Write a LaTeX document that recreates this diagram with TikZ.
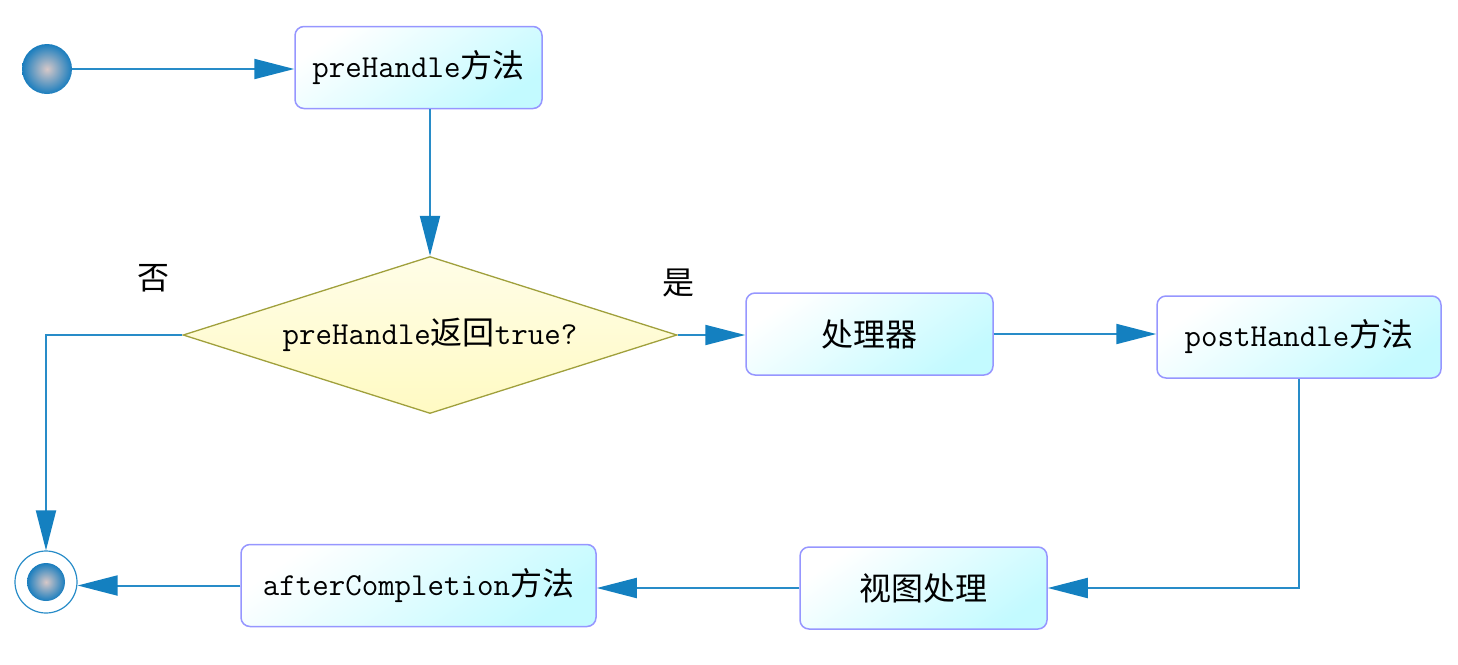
\documentclass[tikz,border=0pt]{standalone}
\usepackage{fontspec}
\newfontfamily\cjk[Scale=1.0]{Noto Sans CJK SC}
\usetikzlibrary{shapes.geometric,arrows.meta}
\definecolor{linec}{RGB}{40,140,200}
\definecolor{tipc}{RGB}{20,128,192}
\definecolor{boxb}{RGB}{150,150,255}
\definecolor{boxc}{RGB}{195,250,255}
\definecolor{diab}{RGB}{160,160,60}
\definecolor{diay}{RGB}{255,250,195}
\definecolor{ballc}{RGB}{25,125,190}
\definecolor{ballm}{RGB}{215,200,200}
\tikzset{
  x=1pt, y=-1pt,
  every node/.style={font=\fontsize{32}{36}\selectfont\ttfamily},
  stepbox/.style={draw=boxb, line width=1.5pt, rounded corners=9pt,
    top color=white, bottom color=boxc, shading angle=35,
    minimum width=247pt, minimum height=82pt, inner sep=0pt},
  decision/.style={diamond, aspect=3.15, draw=diab, line width=1.3pt,
    top color=white!60!diay, bottom color=diay,
    minimum width=494pt, minimum height=157pt, inner sep=0pt},
  ball/.style={circle, inner sep=0pt, shading=radial, inner color=ballm, outer color=ballc},
  conn/.style={draw=linec, line width=2pt,
    -{Triangle[length=40pt,width=20pt,color=tipc]}},
  lbl/.style={font=\fontsize{32}{36}\selectfont\cjk}
}
\begin{document}
\begin{tikzpicture}
\useasboundingbox (0,0) rectangle (1458,664);
\node[ball, minimum size=50pt] (s) at (47,69) {};
\node[stepbox] (pre) at (418.5,67.5) {preHandle{\cjk 方法}};
\node[decision] (d) at (430,335) {preHandle{\cjk 返回}true?};
\node[stepbox] (p) at (869.5,334) {{\cjk 处理器}};
\node[stepbox, minimum width=284pt] (post) at (1299,337) {postHandle{\cjk 方法}};
\node[stepbox] (v) at (923.5,588) {{\cjk 视图处理}};
\node[stepbox, minimum width=355pt] (a) at (418.5,585.5) {afterCompletion{\cjk 方法}};
\node[circle, draw=linec, line width=1.2pt, minimum size=62pt, inner sep=0pt] (e) at (46,582) {};
\node[ball, minimum size=38pt] (ei) at (e) {};
\node[lbl] (no) at (153,278) {否};
\node[lbl] (yes) at (678,283) {是};
\draw[conn] (s.east) -- (s.east -| pre.west);
\draw[conn] (d.north |- pre.south) -- (d.north);
\draw[conn] (d.east) -- (d.east -| p.west);
\draw[conn] (p.east) -- (p.east -| post.west);
\draw[conn] (post.south) |- (v.east);
\draw[conn] (v.west) -- (v.west -| a.east);
\draw[conn] (a.west) -- (a.west -| e.east);
\draw[conn] (d.west) -| (e.north);
\end{tikzpicture}
\end{document}
